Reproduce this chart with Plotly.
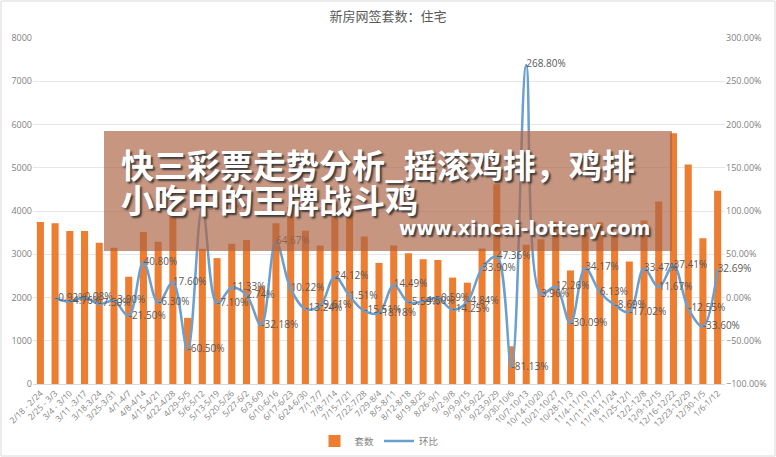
import plotly.graph_objects as go

categories = [
    "2/18 - 2/24", "2/25 - 3/3", "3/4 - 3/10", "3/11 -3/17", "3/18-3/24", "3/25-3/31",
    "4/1-4/7", "4/8-4/14", "4/15-4/21", "4/22-4/28", "4/29-5/5", "5/6-5/12",
    "5/13-5/19", "5/20-5/26", "5/27-6/2", "6/3-6/9", "6/10-6/16", "6/17-6/23",
    "6/24-6/30", "7/1-7/7", "7/8-7/14", "7/15-7/21", "7/22-7/28", "7/29-8/4",
    "8/5-8/11", "8/12-8/18", "8/19-8/25", "8/26-9/1", "9/2-9/8", "9/9-9/15",
    "9/16-9/22", "9/23-9/29", "9/30-10/6", "10/7-10/13", "10/14-10/20", "10/21-10/27",
    "10/28-11/3", "11/4-11/10", "11/11-11/17", "11/18-11/24", "11/25-12/1", "12/2-12/8",
    "12/9-12/15", "12/16-12/22", "12/23-12/29", "12/30-1/5", "1/6-1/12",
]

units = [
    3745, 3714, 3537, 3540, 3266, 3150, 2480, 3515, 3290, 3870, 1529, 3127,
    2910, 3245, 3328, 2257, 3714, 4093, 3545, 3205, 3975, 4035, 3410, 2800,
    3205, 3025, 2885, 2868, 2460, 2342, 3135, 4620, 872, 3220, 3345, 3753,
    2625, 3520, 3737, 3412, 2832, 3780, 4220, 5799, 5075, 3368, 4470,
]

mom_pct = [
    None, -0.92, -4.76, 0.08, -7.50, -3.90, -21.50, 40.80, -6.30, 17.60, -60.50, 104.51,
    -7.10, 11.33, 2.74, -32.18, 64.67, 10.22, -13.24, -9.61, 24.12, 1.51, -15.51, -18.18,
    14.49, -5.59, -4.50, -0.59, -14.25, -4.84, 33.90, 47.36, -81.13, 268.80, 3.96, 12.26,
    -30.09, 34.17, 6.13, -8.69, -17.02, 33.47, 11.67, 37.41, -12.55, -33.60, 32.69,
]

left_ticks = [0, 1000, 2000, 3000, 4000, 5000, 6000, 7000, 8000]
right_ticks = [-1.0, -0.5, 0.0, 0.5, 1.0, 1.5, 2.0, 2.5, 3.0]

mom = [None if v is None else v / 100 for v in mom_pct]
mom_text = ["" if v is None else f"{v:.2f}%" for v in mom_pct]

gray = "#595959"
tickgray = "#7F7F7F"

fig = go.Figure()
fig.add_trace(go.Bar(
    x=categories, y=units, name="套数",
    marker=dict(color="#ED7D31", line=dict(width=0)),
    yaxis="y",
))
fig.add_trace(go.Scatter(
    x=categories, y=mom, name="环比", yaxis="y2",
    mode="lines+text", text=mom_text, textposition="middle right",
    textfont=dict(size=10, color=gray, family="Open Sans, Noto Sans, sans-serif"),
    line=dict(color="#6A9FD0", width=2.5, shape="spline", smoothing=1.0),
    cliponaxis=False,
))

fig.update_layout(
    width=776, height=457,
    margin=dict(l=33, r=51, t=38, b=73, autoexpand=False),
    paper_bgcolor="white", plot_bgcolor="white",
    bargap=0.52,
    title=dict(text="新房网签套数：住宅", x=0.5, xanchor="center", y=0.975, yanchor="top",
               font=dict(size=13, color=gray, family="Noto Sans CJK SC, sans-serif")),
    font=dict(family="Open Sans, Noto Sans CJK SC, sans-serif", color=gray),
    showlegend=True,
    legend=dict(orientation="h", x=0.5, xanchor="center", y=-0.165, yanchor="middle",
                font=dict(size=9.5, color=tickgray, family="Noto Sans CJK SC, sans-serif"),
                itemwidth=30, bgcolor="rgba(0,0,0,0)"),
    xaxis=dict(type="category", tickangle=-45, tickfont=dict(size=8.5, color=tickgray),
               showgrid=False, showline=True, linecolor="#D9D9D9", ticks="",
               automargin=False, range=[-0.5, len(categories) - 0.5]),
    yaxis=dict(range=[0, 8000], tickvals=left_ticks, showgrid=True, gridcolor="#E6E6E6",
               zeroline=False, tickfont=dict(size=9, color=tickgray), ticks="", showline=False,
               automargin=False),
    yaxis2=dict(range=[-1.0, 3.0], tickvals=right_ticks, tickformat=".2%", overlaying="y",
                side="right", showgrid=False, zeroline=False, automargin=False,
                tickfont=dict(size=9, color=tickgray), ticks="", showline=False),
)

# frame around the whole picture
fig.add_shape(type="rect", xref="paper", yref="paper",
              x0=-32 / 692, x1=(775 - 33) / 692, y0=(384 - 456) / 346, y1=(384 - 1) / 346,
              line=dict(color="#D9D9D9", width=1), fillcolor="rgba(0,0,0,0)", layer="below")

# overlay banner
fig.add_shape(type="rect", xref="paper", yref="paper",
              x0=(104 - 33) / 692, x1=(672 - 33) / 692,
              y0=(384 - 251) / 346, y1=(384 - 131) / 346,
              line=dict(width=0), fillcolor="rgba(172,100,70,0.68)", layer="above")

shadow = "2px 2px 2px #3a3a3a"
fig.add_annotation(xref="paper", yref="paper", x=(119 - 33) / 692, y=(384 - 164) / 346,
                   xanchor="left", yanchor="middle", showarrow=False,
                   text="<b>快三彩票走势分析_摇滚鸡排，鸡排</b>",
                   font=dict(size=33, color="white", family="Noto Sans CJK SC", shadow=shadow))
fig.add_annotation(xref="paper", yref="paper", x=(119 - 33) / 692, y=(384 - 199) / 346,
                   xanchor="left", yanchor="middle", showarrow=False,
                   text="<b>小吃中的王牌战斗鸡</b>",
                   font=dict(size=33, color="white", family="Noto Sans CJK SC", shadow=shadow))
fig.add_annotation(xref="paper", yref="paper", x=(652 - 33) / 692, y=(384 - 228) / 346,
                   xanchor="right", yanchor="middle", showarrow=False,
                   text="<b>www.xincai-lottery.com</b>",
                   font=dict(size=19, color="white", family="DejaVu Sans", shadow=shadow))

fig.write_html(
    "out.html",
    config={"displayModeBar": False},
    post_script="document.body.style.margin='0';document.body.style.overflow='hidden';",
)
